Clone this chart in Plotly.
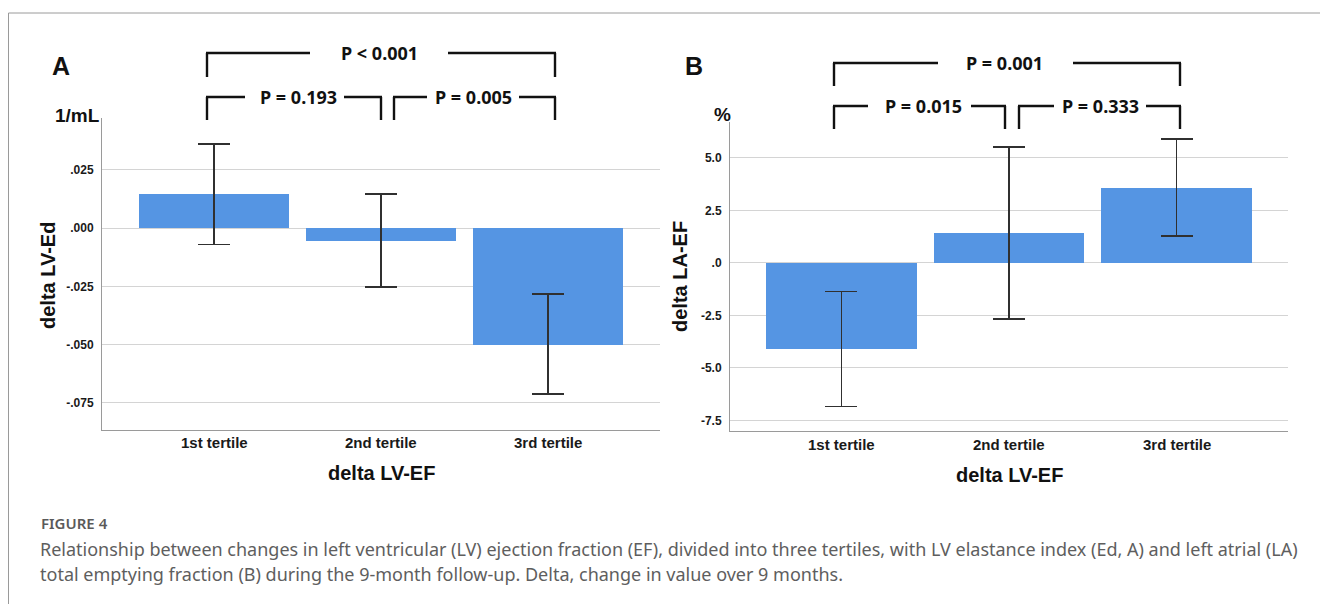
import plotly.graph_objects as go

# The page adds an 8px body margin, so the figure is drawn 8px smaller and
# all reference pixel positions are shifted by that offset.
OFF = 8
W, H = 1328 - OFF, 604 - OFF

# ---------------- data ----------------
categories = ["1st tertile", "2nd tertile", "3rd tertile"]

# Panel A: delta LV-Ed (1/mL)
a_mean = [0.0146, -0.0056, -0.0500]
a_upper = [0.0360, 0.0146, -0.0283]
a_lower = [-0.0069, -0.0253, -0.0712]
a_tickvals = [0.025, 0.0, -0.025, -0.05, -0.075]
a_ticktext = [".025", ".000", "-.025", "-.050", "-.075"]

# Panel B: delta LA-EF (%)
b_mean = [-4.10, 1.43, 3.57]
b_upper = [-1.37, 5.52, 5.90]
b_lower = [-6.85, -2.67, 1.29]
b_tickvals = [5.0, 2.5, 0.0, -2.5, -5.0, -7.5]
b_ticktext = ["5.0", "2.5", ".0", "-2.5", "-5.0", "-7.5"]

a_pvals = ["P < 0.001", "P = 0.193", "P = 0.005"]
b_pvals = ["P = 0.001", "P = 0.015", "P = 0.333"]

caption_head = "FIGURE 4"
caption_lines = [
    "Relationship between changes in left ventricular (LV) ejection fraction (EF), divided into three tertiles, with LV elastance index (Ed, A) and left atrial (LA)",
    "total emptying fraction (B) during the 9-month follow-up. Delta, change in value over 9 months.",
]

# ---------------- helpers ----------------
def px(x):
    return (x - OFF) / W

def py(y):
    return 1 - (y - OFF) / H

BAR = "#5595e3"
AX_FONT = "Liberation Sans, Arial, sans-serif"
P_FONT = "Noto Sans, Open Sans, sans-serif"

fig = go.Figure()

def err(mean, up, lo):
    plus = [u - m for u, m in zip(up, mean)]
    minus = [m - l for m, l in zip(mean, lo)]
    return dict(type="data", array=plus, arrayminus=minus, symmetric=False,
                color="#303030", thickness=1.3, width=16)

fig.add_trace(go.Bar(x=list(range(3)), y=a_mean, width=0.9, marker_color=BAR,
                     marker_line_width=0, error_y=err(a_mean, a_upper, a_lower),
                     xaxis="x", yaxis="y", hoverinfo="skip"))
fig.add_trace(go.Bar(x=list(range(3)), y=b_mean, width=0.9, marker_color=BAR,
                     marker_line_width=0, error_y=err(b_mean, b_upper, b_lower),
                     xaxis="x2", yaxis="y2", hoverinfo="skip"))

common_x = dict(showticklabels=False, showgrid=False, zeroline=False, showline=True,
                linecolor="#9a9a9a", linewidth=1, ticks="", fixedrange=True)
common_y = dict(tickmode="array", showgrid=True, gridcolor="#d4d4d4", gridwidth=1,
                zeroline=False, showline=True, linecolor="#9a9a9a", linewidth=1,
                ticks="", ticklabelstandoff=5,
                tickfont=dict(family=AX_FONT, size=12, color="#1a1a1a", weight="bold"),
                fixedrange=True)

fig.update_layout(
    width=W, height=H, margin=dict(l=0, r=0, t=0, b=0),
    paper_bgcolor="white", plot_bgcolor="white", showlegend=False,
    bargap=0,
    xaxis=dict(domain=[px(102), px(660)], range=[-0.671, 2.671], anchor="y", **common_x),
    yaxis=dict(domain=[py(430), py(118)], range=[-0.0866, 0.0472], anchor="x",
               tickvals=a_tickvals, ticktext=a_ticktext, **common_y),
    xaxis2=dict(domain=[px(730), px(1288)], range=[-0.665, 2.665], anchor="y2", **common_x),
    yaxis2=dict(domain=[py(431), py(122)], range=[-8.0, 6.71], anchor="x2",
                tickvals=b_tickvals, ticktext=b_ticktext, **common_y),
)

shapes = []
annotations = []

def line(x0, y0, x1, y1, w=2.4, color="#111"):
    shapes.append(dict(type="line", xref="paper", yref="paper",
                       x0=px(x0), y0=py(y0), x1=px(x1), y1=py(y1),
                       line=dict(color=color, width=w)))

def text(x, y, s, size, family=AX_FONT, color="#111", bold=True, xanchor="center", angle=0):
    annotations.append(dict(xref="paper", yref="paper", x=px(x), y=py(y),
                            text=("<b>%s</b>" % s) if bold else s, showarrow=False,
                            xanchor=xanchor, yanchor="middle", textangle=angle,
                            font=dict(family=family, size=size, color=color)))

def bracket(xl, xr, ytop, ybot, segs, label, tx):
    line(xl, ytop, xl, ybot)
    line(xr, ytop, xr, ybot)
    for s0, s1 in segs:
        line(s0, ytop, s1, ytop)
    text(tx, ytop, label, 18, family=P_FONT)

# Category labels placed on the category axis positions
for xa, ylab in (("x", 442), ("x2", 444)):
    for i, c in enumerate(categories):
        annotations.append(dict(xref=xa, yref="paper", x=i, y=py(ylab), text="<b>%s</b>" % c,
                                showarrow=False, xanchor="center", yanchor="middle",
                                font=dict(family=AX_FONT, size=15, color="#1a1a1a")))

# Panel A brackets
bracket(207, 555, 53, 77, [(206, 310), (448, 556)], a_pvals[0], 379)
bracket(207, 381, 97, 120, [(206, 245), (344, 382)], a_pvals[1], 298)
bracket(394, 555, 97, 120, [(393, 427), (519, 556)], a_pvals[2], 473)

# Panel B brackets
bracket(834, 1180, 63, 86, [(833, 938), (1073, 1181)], b_pvals[0], 1004)
bracket(834, 1005, 106, 129, [(833, 868), (971, 1006)], b_pvals[1], 923)
bracket(1019, 1180, 106, 129, [(1018, 1054), (1146, 1181)], b_pvals[2], 1100)

# Panel letters / units / axis titles
text(61, 66, "A", 25)
text(694, 66, "B", 25)
text(77, 116, "1/mL", 19)
text(722, 114, "%", 19)
text(48, 276, "delta LV-Ed", 20, angle=-90)
text(680, 276, "delta LA-EF", 20, angle=-90)
text(381, 473, "delta LV-EF", 20)
text(1010, 475, "delta LV-EF", 20)

# Caption
annotations.append(dict(xref="paper", yref="paper", x=px(39), y=py(523), text=caption_head,
                        showarrow=False, xanchor="left", yanchor="middle",
                        font=dict(family="Noto Sans, sans-serif", size=15, color="#5a5a5a",
                                  weight=600)))
for i, s in enumerate(caption_lines):
    annotations.append(dict(xref="paper", yref="paper", x=px(38), y=py(549 + 25 * i), text=s,
                            showarrow=False, xanchor="left", yanchor="middle",
                            font=dict(family="Noto Sans, sans-serif", size=18, color="#5e5e5e")))

# Outer frame (left edge kept inside the drawable area)
shapes.append(dict(type="rect", xref="paper", yref="paper", x0=px(8.5), x1=px(1325),
                   y0=py(640), y1=py(13), line=dict(color="#9a9a9a", width=1),
                   fillcolor="rgba(0,0,0,0)", layer="below"))

fig.update_layout(shapes=shapes, annotations=annotations)
fig.write_html("out.html")
